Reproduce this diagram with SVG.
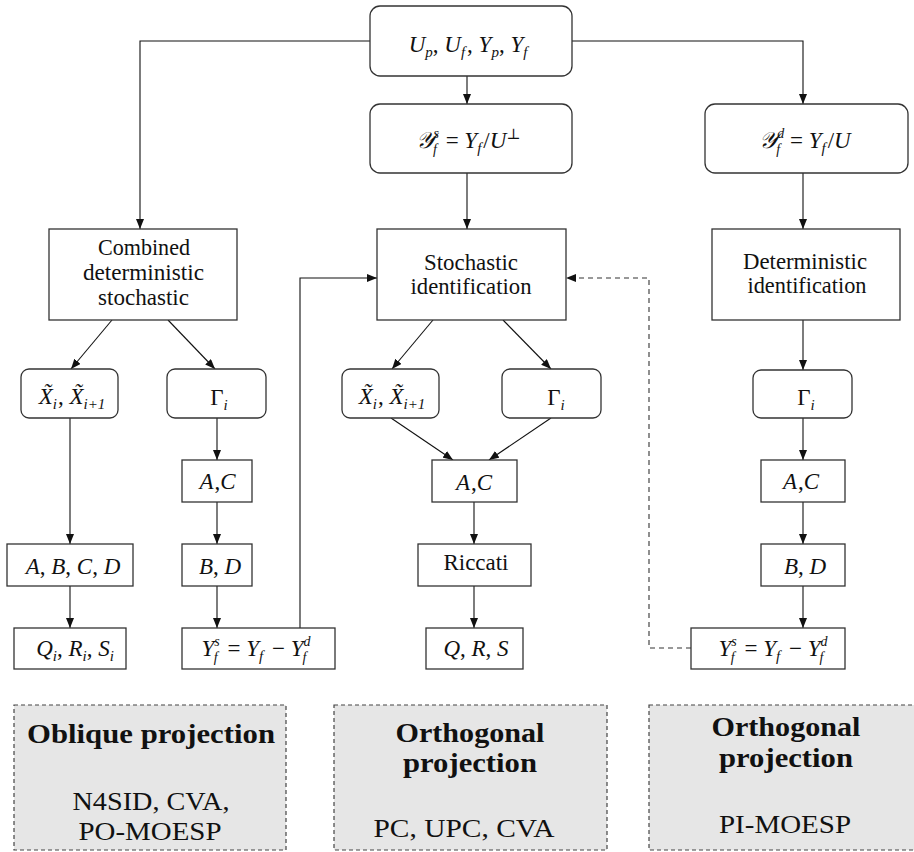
<svg xmlns="http://www.w3.org/2000/svg" width="914" height="852" viewBox="0 0 914 852" font-family="'Liberation Serif', 'DejaVu Serif', serif">
<defs>
<marker id="a" viewBox="0 0 10 8" markerWidth="10" markerHeight="8" refX="10" refY="4" orient="auto" markerUnits="userSpaceOnUse">
<path d="M0,0 L10,4 L0,8 z" fill="#111"/>
</marker>
<style>
.n rect{fill:#fff;stroke:#333;stroke-width:1.3}
.g rect{fill:#e6e6e6;stroke:#444;stroke-width:1.2;stroke-dasharray:4 3}
text{font-family:"Liberation Serif","DejaVu Serif",serif;fill:#111;text-anchor:middle}
.t{font-size:22.5px}
.m{font-size:23px;font-style:italic}
.s{font-size:15px}
.k{font-size:14px}
.u{font-style:normal}
.h{font-size:28px;font-weight:bold}
.r{font-size:25px}
#connectors path{fill:none;stroke:#111;stroke-width:1.1;marker-end:url(#a)}
#connectors path.d{stroke:#333;stroke-dasharray:5 4}
</style>
</defs>
<rect width="914" height="852" fill="#fff"/>

<g id="connectors">
<path d="M370,41 H140 V229"/>
<path d="M572,41 H803 V104"/>
<path d="M467,76 V104"/>
<path d="M467,173 V229"/>
<path d="M803,173 V229"/>
<path d="M112,320 L71,369"/>
<path d="M168,320 L215,369"/>
<path d="M70,418 V544"/>
<path d="M70,586 V628"/>
<path d="M217,418 V460"/>
<path d="M217,502 V544"/>
<path d="M217,586 V628"/>
<path d="M300,628 V278 H377"/>
<path d="M433,320 L392,369"/>
<path d="M503,320 L551,369"/>
<path d="M391,418 L453,460"/>
<path d="M551,418 L489,460"/>
<path d="M474,502 V544"/>
<path d="M474,586 V628"/>
<path d="M803,320 V370"/>
<path d="M803,418 V460"/>
<path d="M803,502 V544"/>
<path d="M803,586 V628"/>
<path class="d" d="M691,648 H649 V278 H566"/>
</g>

<g id="data" class="n">
<rect x="370" y="6" width="202" height="70" rx="10"/>
<text class="m" x="468" y="52">U<tspan class="s" dy="5">p</tspan><tspan class="u" dy="-5">, </tspan>U<tspan class="s" dy="5">f</tspan><tspan class="u" dy="-5" dx="2">, </tspan>Y<tspan class="s" dy="5">p</tspan><tspan class="u" dy="-5">, </tspan>Y<tspan class="s" dy="5">f</tspan></text>
</g>

<g id="proj-stoch" class="n">
<rect x="370" y="104" width="202" height="69" rx="10"/>
<text class="m" x="468" y="148">𝒴<tspan class="k" dy="-10">s</tspan><tspan class="k" dx="-6" dy="16">f</tspan><tspan class="u" dy="-6" dx="3"> = </tspan>Y<tspan class="s" dy="5">f</tspan><tspan class="u" dy="-5" dx="2">/</tspan>U<tspan class="s u" dy="-9">⊥</tspan></text>
</g>

<g id="proj-det" class="n">
<rect x="705" y="104" width="203" height="69" rx="10"/>
<text class="m" x="805" y="148">𝒴<tspan class="k" dy="-10">d</tspan><tspan class="k" dx="-8" dy="16">f</tspan><tspan class="u" dy="-6" dx="4"> = </tspan>Y<tspan class="s" dy="5">f</tspan><tspan class="u" dy="-5" dx="2">/</tspan>U</text>
</g>

<g id="combined" class="n">
<rect x="49" y="229" width="188" height="91"/>
<text class="t" x="144" y="255" textLength="92" lengthAdjust="spacingAndGlyphs">Combined</text>
<text class="t" x="143.5" y="280" textLength="121" lengthAdjust="spacingAndGlyphs">deterministic</text>
<text class="t" x="143.5" y="305" textLength="91" lengthAdjust="spacingAndGlyphs">stochastic</text>
</g>

<g id="stochastic" class="n">
<rect x="377" y="229" width="189" height="91"/>
<text class="t" x="471" y="270" textLength="94" lengthAdjust="spacingAndGlyphs">Stochastic</text>
<text class="t" x="471" y="294" textLength="121" lengthAdjust="spacingAndGlyphs">identification</text>
</g>

<g id="deterministic" class="n">
<rect x="712" y="229" width="188" height="91"/>
<text class="t" x="805" y="269" textLength="124" lengthAdjust="spacingAndGlyphs">Deterministic</text>
<text class="t" x="807" y="293" textLength="119" lengthAdjust="spacingAndGlyphs">identification</text>
</g>

<g id="states-left" class="n">
<rect x="21" y="369" width="97" height="49" rx="8"/>
<text class="m" x="72" y="404">X̃<tspan class="s" dy="5">i</tspan><tspan class="u" dy="-5" dx="1">, </tspan>X̃<tspan class="s" dy="5">i+1</tspan></text>
</g>

<g id="gamma-left" class="n">
<rect x="167" y="369" width="99" height="49" rx="8"/>
<text class="m" x="219" y="405"><tspan class="u">Γ</tspan><tspan class="s" dy="5">i</tspan></text>
</g>

<g id="states-mid" class="n">
<rect x="342" y="369" width="97" height="49" rx="8"/>
<text class="m" x="392" y="404">X̃<tspan class="s" dy="5">i</tspan><tspan class="u" dy="-5" dx="1">, </tspan>X̃<tspan class="s" dy="5">i+1</tspan></text>
</g>

<g id="gamma-mid" class="n">
<rect x="502" y="369" width="99" height="49" rx="8"/>
<text class="m" x="556" y="405"><tspan class="u">Γ</tspan><tspan class="s" dy="5">i</tspan></text>
</g>

<g id="gamma-right" class="n">
<rect x="753" y="370" width="99" height="48" rx="8"/>
<text class="m" x="806" y="405"><tspan class="u">Γ</tspan><tspan class="s" dy="5">i</tspan></text>
</g>

<g id="abcd" class="n">
<rect x="7" y="544" width="126" height="42"/>
<text class="m" x="73" y="574">A<tspan class="u">, </tspan>B<tspan class="u">, </tspan>C<tspan class="u">, </tspan>D</text>
</g>

<g id="qrs-i" class="n">
<rect x="14" y="628" width="112" height="41"/>
<text class="m" x="75" y="656">Q<tspan class="s" dy="5">i</tspan><tspan class="u" dy="-5">, </tspan>R<tspan class="s" dy="5">i</tspan><tspan class="u" dy="-5">, </tspan>S<tspan class="s" dy="5">i</tspan></text>
</g>

<g id="ac-left" class="n">
<rect x="182" y="460" width="70" height="42"/>
<text class="m" x="217.5" y="489">A<tspan class="u" dx="1">,</tspan>C</text>
</g>

<g id="bd-left" class="n">
<rect x="182" y="544" width="70" height="42"/>
<text class="m" x="220" y="574">B<tspan class="u">, </tspan>D</text>
</g>

<g id="ysf-left" class="n">
<rect x="182" y="628" width="153" height="41"/>
<text class="m" x="256" y="656">Y<tspan class="k" dy="-10">s</tspan><tspan class="k" dx="-6" dy="16">f</tspan><tspan class="u" dy="-6" dx="4"> = </tspan>Y<tspan class="s" dy="5">f</tspan><tspan class="u" dy="-5" dx="3"> − </tspan>Y<tspan class="k" dy="-10">d</tspan><tspan class="k" dx="-8" dy="16">f</tspan></text>
</g>

<g id="ac-mid" class="n">
<rect x="432" y="460" width="85" height="42"/>
<text class="m" x="474" y="490">A<tspan class="u" dx="1">,</tspan>C</text>
</g>

<g id="riccati" class="n">
<rect x="418" y="544" width="113" height="42"/>
<text class="t" x="476" y="570" textLength="65" lengthAdjust="spacingAndGlyphs">Riccati</text>
</g>

<g id="qrs" class="n">
<rect x="426" y="628" width="97" height="41"/>
<text class="m" x="476" y="656">Q<tspan class="u">, </tspan>R<tspan class="u">, </tspan>S</text>
</g>

<g id="ac-right" class="n">
<rect x="761" y="460" width="84" height="42"/>
<text class="m" x="801" y="489">A<tspan class="u" dx="1">,</tspan>C</text>
</g>

<g id="bd-right" class="n">
<rect x="761" y="544" width="84" height="42"/>
<text class="m" x="805" y="574">B<tspan class="u">, </tspan>D</text>
</g>

<g id="ysf-right" class="n">
<rect x="691" y="628" width="154" height="41"/>
<text class="m" x="773" y="656">Y<tspan class="k" dy="-10">s</tspan><tspan class="k" dx="-6" dy="16">f</tspan><tspan class="u" dy="-6" dx="4"> = </tspan>Y<tspan class="s" dy="5">f</tspan><tspan class="u" dy="-5" dx="3"> − </tspan>Y<tspan class="k" dy="-10">d</tspan><tspan class="k" dx="-8" dy="16">f</tspan></text>
</g>

<g id="oblique" class="g">
<rect x="14" y="705" width="272" height="145"/>
<text class="h" x="151" y="743" textLength="248" lengthAdjust="spacingAndGlyphs">Oblique projection</text>
<text class="r" x="151" y="810" textLength="157" lengthAdjust="spacingAndGlyphs">N4SID, CVA,</text>
<text class="r" x="150" y="840" textLength="143" lengthAdjust="spacingAndGlyphs">PO-MOESP</text>
</g>

<g id="orth-stoch" class="g">
<rect x="334" y="705" width="273" height="145"/>
<text class="h" x="470" y="742" textLength="149" lengthAdjust="spacingAndGlyphs">Orthogonal</text>
<text class="h" x="470" y="772" textLength="134" lengthAdjust="spacingAndGlyphs">projection</text>
<text class="r" x="464" y="837" textLength="181" lengthAdjust="spacingAndGlyphs">PC, UPC, CVA</text>
</g>

<g id="orth-det" class="g">
<rect x="649" y="705" width="273" height="145"/>
<text class="h" x="786" y="736" textLength="149" lengthAdjust="spacingAndGlyphs">Orthogonal</text>
<text class="h" x="786" y="767" textLength="134" lengthAdjust="spacingAndGlyphs">projection</text>
<text class="r" x="785" y="833" textLength="132" lengthAdjust="spacingAndGlyphs">PI-MOESP</text>
</g>
</svg>
